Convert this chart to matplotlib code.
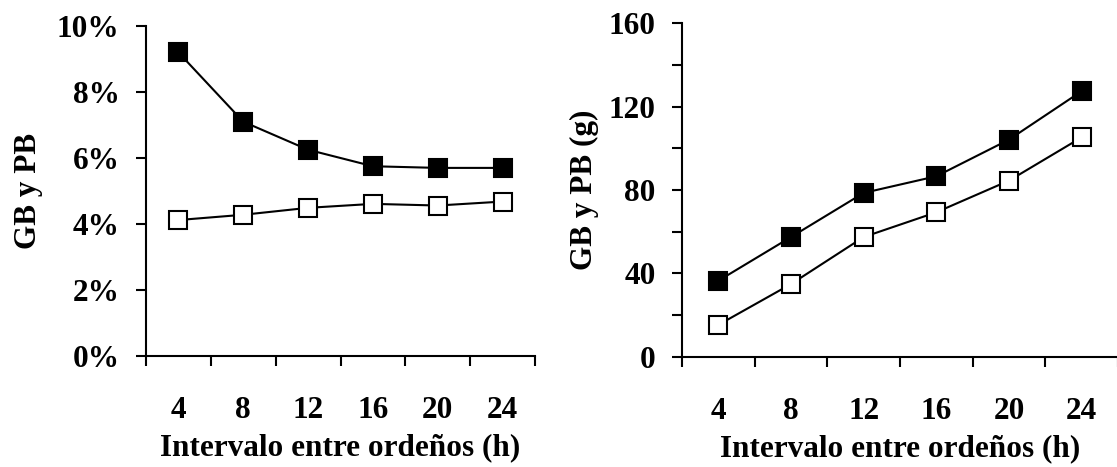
import numpy as np
import matplotlib
matplotlib.use("Agg")
import matplotlib.pyplot as plt

plt.rcParams['font.family'] = ['Liberation Serif', 'DejaVu Serif']
plt.rcParams['font.weight'] = 'bold'

# datos
intervalos = ['4', '8', '12', '16', '20', '24']
gb_pct = [9.2, 7.1, 6.25, 5.75, 5.7, 5.7]     # cuadrado negro
pb_pct = [4.12, 4.28, 4.49, 4.61, 4.56, 4.68]  # cuadrado blanco
gb_g = [36.4, 57.4, 78.6, 86.6, 104.2, 127.5]
pb_g = [15.2, 34.8, 57.4, 69.3, 84.5, 105.3]

W, H = 1117, 467
FS = 22.5
fig = plt.figure(figsize=(W / 100, H / 100), dpi=100)

ax1 = fig.add_axes([146 / W, (H - 356) / H, (535 - 146) / W, (356 - 26) / H])
ax2 = fig.add_axes([682 / W, (H - 356.5) / H, (1118 - 682) / W, (356.5 - 23.5) / H])

x = np.arange(len(intervalos))


def estilo(ax, ylabel):
    for s in ['top', 'right']:
        ax.spines[s].set_visible(False)
    for s in ['left', 'bottom']:
        ax.spines[s].set_linewidth(1.5)
    ax.set_xlim(-0.5, len(intervalos) - 0.5)
    ax.set_xticks(x)
    ax.set_xticklabels(intervalos)
    ax.tick_params(axis='x', which='major', length=0, pad=29, labelsize=FS)
    ax.set_xticks(np.arange(-0.5, len(intervalos)), minor=True)
    ax.tick_params(axis='x', which='minor', direction='out', length=7, width=1.5)
    ax.tick_params(axis='y', which='both', direction='out', length=7, width=1.5,
                   pad=12, labelsize=FS)
    ax.set_xlabel('Intervalo entre ordeños (h)', fontsize=FS, fontweight='bold', labelpad=6)
    ax.set_ylabel(ylabel, fontsize=FS, fontweight='bold')


def series(ax, a, b):
    ax.plot(x, a, '-', color='black', lw=1.5, marker='s', ms=13,
            mfc='black', mec='black', mew=1.5, clip_on=False)
    ax.plot(x, b, '-', color='black', lw=1.5, marker='s', ms=13,
            mfc='white', mec='black', mew=1.5, clip_on=False)


series(ax1, gb_pct, pb_pct)
estilo(ax1, 'GB y PB')
ax1.set_ylim(0, 10)
ax1.set_yticks([0, 2, 4, 6, 8, 10])
ax1.set_yticklabels(['%d%%' % v for v in [0, 2, 4, 6, 8, 10]])
ax1.yaxis.set_label_coords(-0.265, 0.5)

series(ax2, gb_g, pb_g)
estilo(ax2, 'GB y PB (g)')
ax2.set_ylim(0, 160)
ax2.set_yticks([0, 40, 80, 120, 160])
ax2.set_yticks([20, 60, 100, 140], minor=True)
ax2.yaxis.set_label_coords(-0.19, 0.5)

fig.savefig('out.png', dpi=100)
